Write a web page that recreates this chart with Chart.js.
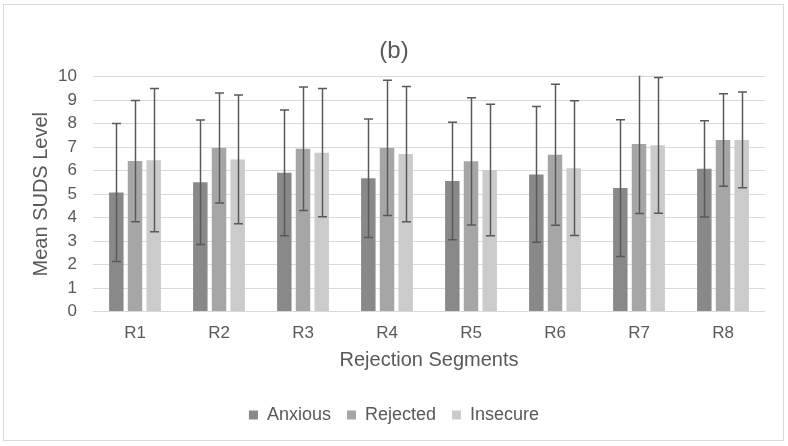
<!DOCTYPE html>
<html>
<head>
<meta charset="utf-8">
<script src="https://cdn.jsdelivr.net/npm/chart.js@4.4.1/dist/chart.umd.min.js"></script>
<style>
    html, body { margin: 0; padding: 0; background: #fff; }
    #wrap { position: relative; width: 788px; height: 446px; }
</style>
</head>
<body>
<div id="wrap"><canvas id="myChart" width="788" height="446"></canvas></div>
<script>
// chart data
const categories = ['R1', 'R2', 'R3', 'R4', 'R5', 'R6', 'R7', 'R8'];
const seriesNames = ['Anxious', 'Rejected', 'Insecure'];
const anxious = [5.07, 5.51, 5.91, 5.68, 5.56, 5.84, 5.26, 6.08];
const rejected = [6.41, 6.97, 6.94, 6.97, 6.40, 6.68, 7.14, 7.31];
const insecure = [6.45, 6.48, 6.77, 6.71, 6.03, 6.11, 7.08, 7.31];
const anxiousErr = [2.94, 2.65, 2.68, 2.52, 2.50, 2.89, 2.91, 2.05];
const rejectedErr = [2.58, 2.34, 2.63, 2.88, 2.71, 3.00, 2.96, 1.97];
const insecureErr = [3.05, 2.74, 2.73, 2.88, 2.80, 2.87, 2.89, 2.04];
const yTicks = [0, 10, 1]; // min, max, step

const barColors = ['#898989', '#a6a6a6', '#cbcbcb'];
const textColor = '#595959';
const fontFamily = '"Liberation Sans", Arial, sans-serif';

const allValues = [anxious, rejected, insecure];
const allErrors = [anxiousErr, rejectedErr, insecureErr];

// chart border like excel
const borderPlugin = {
    id: 'chartBorder',
    beforeDraw(chart) {
        const ctx = chart.ctx;
        ctx.save();
        ctx.fillStyle = '#fff';
        ctx.fillRect(0, 0, chart.width, chart.height);
        ctx.strokeStyle = '#d9d9d9';
        ctx.lineWidth = 1;
        ctx.strokeRect(3.5, 4.5, 780, 436);
        ctx.restore();
    }
};

// error bars drawn from data
const errorBarPlugin = {
    id: 'errorBars',
    afterDatasetsDraw(chart) {
        const ctx = chart.ctx;
        const yScale = chart.scales.y;
        const area = chart.chartArea;
        ctx.save();
        ctx.beginPath();
        ctx.rect(area.left, area.top - 1, area.right - area.left, area.bottom - area.top + 2);
        ctx.clip();
        ctx.strokeStyle = '#595959';
        ctx.lineWidth = 1.5;
        for (let d = 0; d < chart.data.datasets.length; d++) {
            let meta = chart.getDatasetMeta(d);
            let errs = allErrors[d];
            for (let i = 0; i < meta.data.length; i++) {
                let bar = meta.data[i];
                let v = allValues[d][i];
                let yTop = yScale.getPixelForValue(v + errs[i]);
                let yBot = yScale.getPixelForValue(v - errs[i]);
                let x = Math.round(bar.x) + 0.5;
                ctx.beginPath();
                ctx.moveTo(x, yTop);
                ctx.lineTo(x, yBot);
                ctx.moveTo(x - 4.5, yTop);
                ctx.lineTo(x + 4.5, yTop);
                ctx.moveTo(x - 4.5, yBot);
                ctx.lineTo(x + 4.5, yBot);
                ctx.stroke();
            }
        }
        ctx.restore();
    }
};

let datasets = [];
for (let i = 0; i < seriesNames.length; i++) {
    datasets.push({
        label: seriesNames[i],
        data: allValues[i],
        backgroundColor: barColors[i],
        borderWidth: 0,
        categoryPercentage: 0.667,
        barPercentage: 0.775
    });
}

let ctx = document.getElementById('myChart').getContext('2d');
let myChart = new Chart(ctx, {
    type: 'bar',
    data: {
        labels: categories,
        datasets: datasets
    },
    plugins: [borderPlugin, errorBarPlugin],
    options: {
        responsive: false,
        animation: false,
        devicePixelRatio: 1,
        layout: {
            padding: { left: 23, right: 23, top: 0, bottom: 12 }
        },
        plugins: {
            title: {
                display: true,
                text: '(b)',
                color: textColor,
                font: { family: fontFamily, size: 24, weight: 'normal' },
                padding: { top: 37, bottom: 11 }
            },
            legend: {
                position: 'bottom',
                labels: {
                    color: textColor,
                    font: { family: fontFamily, size: 18 },
                    boxWidth: 9,
                    boxHeight: 9,
                    padding: 16
                }
            },
            tooltip: { enabled: false }
        },
        scales: {
            x: {
                grid: { display: false, drawTicks: false },
                border: { display: false },
                ticks: {
                    color: textColor,
                    font: { family: fontFamily, size: 17 },
                    padding: 12
                },
                title: {
                    display: true,
                    text: 'Rejection Segments',
                    color: textColor,
                    font: { family: fontFamily, size: 20 },
                    padding: { top: -8, bottom: 18 }
                }
            },
            y: {
                min: yTicks[0],
                max: yTicks[1],
                afterFit(scale) {
                    scale.width = 70;
                },
                grid: { color: '#d9d9d9', lineWidth: 1, drawTicks: false },
                border: { display: false },
                ticks: {
                    stepSize: yTicks[2],
                    autoSkip: false,
                    color: textColor,
                    font: { family: fontFamily, size: 17 },
                    padding: 16
                },
                title: {
                    display: true,
                    text: 'Mean SUDS Level',
                    color: textColor,
                    font: { family: fontFamily, size: 20 },
                    padding: { top: 6, bottom: 0 }
                }
            }
        }
    }
});
</script>
</body>
</html>
